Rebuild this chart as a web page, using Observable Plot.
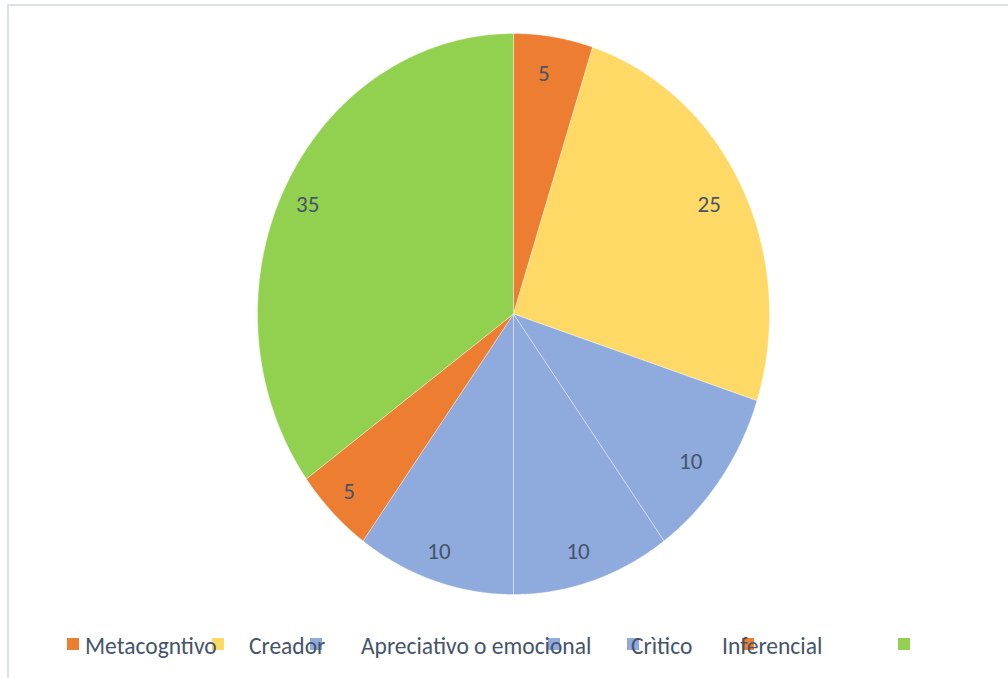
<!DOCTYPE html>
<html><head><meta charset="utf-8">
<script src="https://cdn.jsdelivr.net/npm/d3@7"></script>
<script src="https://cdn.jsdelivr.net/npm/@observablehq/plot@0.6"></script>
<style>
body{margin:0;background:#fff;font-family:Carlito,Calibri,"Open Sans",sans-serif;}
#wrap{position:relative;width:1008px;height:678px;overflow:hidden;}
#frame{position:absolute;left:7px;top:4px;width:1010px;height:700px;border-top:2px solid #DDE2E9;border-left:2px solid #DDE2E9;box-sizing:border-box;}
#chart{position:absolute;left:0;top:0;}
#legend{position:absolute;left:0;top:633px;width:1008px;height:30px;font-size:23.5px;color:#44546A;}
#legend .sw{position:absolute;top:5px;width:12px;height:12px;}
#legend .lb{position:absolute;top:0px;white-space:nowrap;line-height:26px;}
</style>
</head><body>
<div id="wrap"><div id="frame"></div><div id="chart"></div><div id="legend"></div></div>
<script>
// ---- data ----
const values = [5, 25, 10, 10, 10, 5, 35];
const sliceColors = ["#ED7D31", "#FFD966", "#8FAADC", "#8FAADC", "#8FAADC", "#ED7D31", "#92D050"];
const legendLabels = ["Metacogntivo", "Creador", "Apreciativo o emocional", "Crìtico", "Inferencial"];

// ---- build slices from data ----
const arcs = d3.pie().sort(null).startAngle(0).endAngle(2 * Math.PI)(values);
const pts = [];
arcs.forEach((a, i) => {
  pts.push({id: i, color: sliceColors[i], x: 0, y: 0});
  const n = 120;
  for (let k = 0; k <= n; k++) {
    const t = a.startAngle + (a.endAngle - a.startAngle) * k / n;
    pts.push({id: i, color: sliceColors[i], x: Math.sin(t), y: Math.cos(t)});
  }
  pts.push({id: i, color: sliceColors[i], x: 0, y: 0});
});
const labels = arcs.map((a, i) => {
  const m = (a.startAngle + a.endAngle) / 2;
  return {x: 0.88 * Math.sin(m), y: 0.88 * Math.cos(m), v: values[i]};
});

const plot = Plot.plot({
  width: 1008,
  height: 620,
  margin: 0,
  x: {domain: [-1, 1], range: [257, 769], axis: null},
  y: {domain: [-1, 1], range: [594, 33], axis: null},
  color: {type: "identity"},
  style: {background: "transparent", fontFamily: "Carlito, Calibri, 'Open Sans', sans-serif"},
  marks: [
    Plot.line(pts, {x: "x", y: "y", z: "id", fill: "color", stroke: "white", strokeWidth: 0.8, strokeOpacity: 0.45, curve: "linear"}),
    Plot.text(labels, {x: "x", y: "y", text: "v", fill: "#44546A", fontSize: 23, dx: -5, dy: 3})
  ]
});
document.getElementById("chart").appendChild(plot);

// ---- legend (markers offset from labels as in the original) ----
const leg = document.getElementById("legend");
const swatchX = [67, 212, 310, 548, 627, 742, 898];
const labelX = [85, 249, 361, 631, 722];
sliceColors.forEach((c, i) => {
  const s = document.createElement("div");
  s.className = "sw"; s.style.left = swatchX[i] + "px"; s.style.background = c;
  leg.appendChild(s);
});
legendLabels.forEach((t, i) => {
  const s = document.createElement("div");
  s.className = "lb"; s.style.left = labelX[i] + "px"; s.textContent = t;
  leg.appendChild(s);
});
</script>
</body></html>
